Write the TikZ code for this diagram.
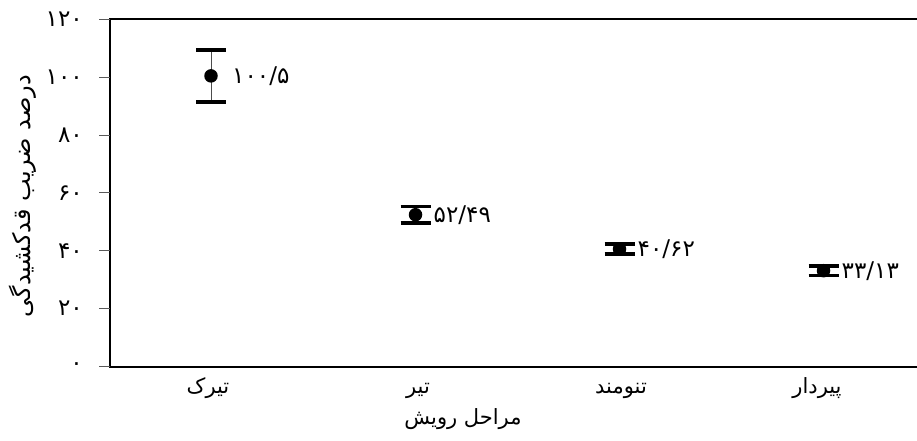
\documentclass[tikz,border=0pt]{standalone}
\usepackage{fontspec}
\TeXXeTstate=1
\newfontfamily\arabicfont[Script=Arabic]{DejaVu Sans}
\begin{document}
\begin{tikzpicture}[x=1pt,y=-1pt,
  tickline/.style={draw=gray!70!black, line width=1pt},
  frameline/.style={line width=2pt, line cap=rect},
  capline/.style={line width=3.5pt},
  whisker/.style={draw=gray!60!black, line width=1pt},
  dotnode/.style={circle, fill=black, inner sep=0pt, minimum size=13.5pt},
  lab/.style={font=\arabicfont\fontsize{21}{24}\selectfont, inner sep=0pt},
  numlab/.style={font=\arabicfont\fontsize{23}{26}\selectfont, inner sep=0pt},
]
\useasboundingbox (0,0) rectangle (917,441);
% frame (no right side)
\coordinate (tr) at (917,19.5);
\coordinate (tl) at (110,19.5);
\coordinate (bl) at (110,366.5);
\coordinate (br) at (917,366.5);
\draw[frameline] (tr) -- (tl) -- (bl) -- (br);
% data scope: x in px, y in value units
\begin{scope}[shift={(0,366.5)}, y=2.8917pt]
  \foreach \v/\t in {0/۰,20/۲۰,40/۴۰,60/۶۰,80/۸۰,100/۱۰۰,120/۱۲۰}{
    \coordinate (ta\v) at (99,\v);
    \coordinate (tb\v) at (110,\v);
    \draw[tickline] (ta\v) -- (tb\v);
    \node[numlab, anchor=east] (tl\v) at (83,\v) {\t};
  }
  \foreach \n/\x/\m/\e in {1/211/100.5/9, 2/415.5/52.49/2.9, 3/619.5/40.62/1.7, 4/823.5/33.13/1.7}{
    \coordinate (hi\n) at (\x,\m+\e);
    \coordinate (lo\n) at (\x,\m-\e);
    \coordinate (hil\n) at (\x-15,\m+\e);
    \coordinate (hir\n) at (\x+15,\m+\e);
    \coordinate (lol\n) at (\x-15,\m-\e);
    \coordinate (lor\n) at (\x+15,\m-\e);
    \draw[whisker] (hi\n) -- (lo\n);
    \node[dotnode] (p\n) at (\x,\m) {};
    \draw[capline] (hil\n) -- (hir\n);
    \draw[capline] (lol\n) -- (lor\n);
  }
  \node[numlab, anchor=west] (v1) at (232,100.5) {۱۰۰/۵};
  \node[numlab, anchor=west] (v2) at (433.5,52.49) {۵۲/۴۹};
  \node[numlab, anchor=west] (v3) at (637.5,40.62) {۴۰/۶۲};
  \node[numlab, anchor=west] (v4) at (841.5,33.13) {۳۳/۱۳};
\end{scope}
% category labels
\node[lab, anchor=base] (c1) at (208,393) {\beginR تیرک\endR};
\node[lab, anchor=base] (c2) at (418,393) {\beginR تیر\endR};
\node[lab, anchor=base] (c3) at (621,393) {\beginR تنومند\endR};
\node[lab, anchor=base] (c4) at (817,393) {\beginR پیردار\endR};
% axis titles
\node[lab, anchor=base] (xt) at (463,424) {\beginR مراحل رویش\endR};
\node[lab, rotate=90, font=\arabicfont\fontsize{24}{27}\selectfont] (yt) at (23,196) {\beginR درصد ضریب قدکشیدگی\endR};
\end{tikzpicture}
\end{document}
